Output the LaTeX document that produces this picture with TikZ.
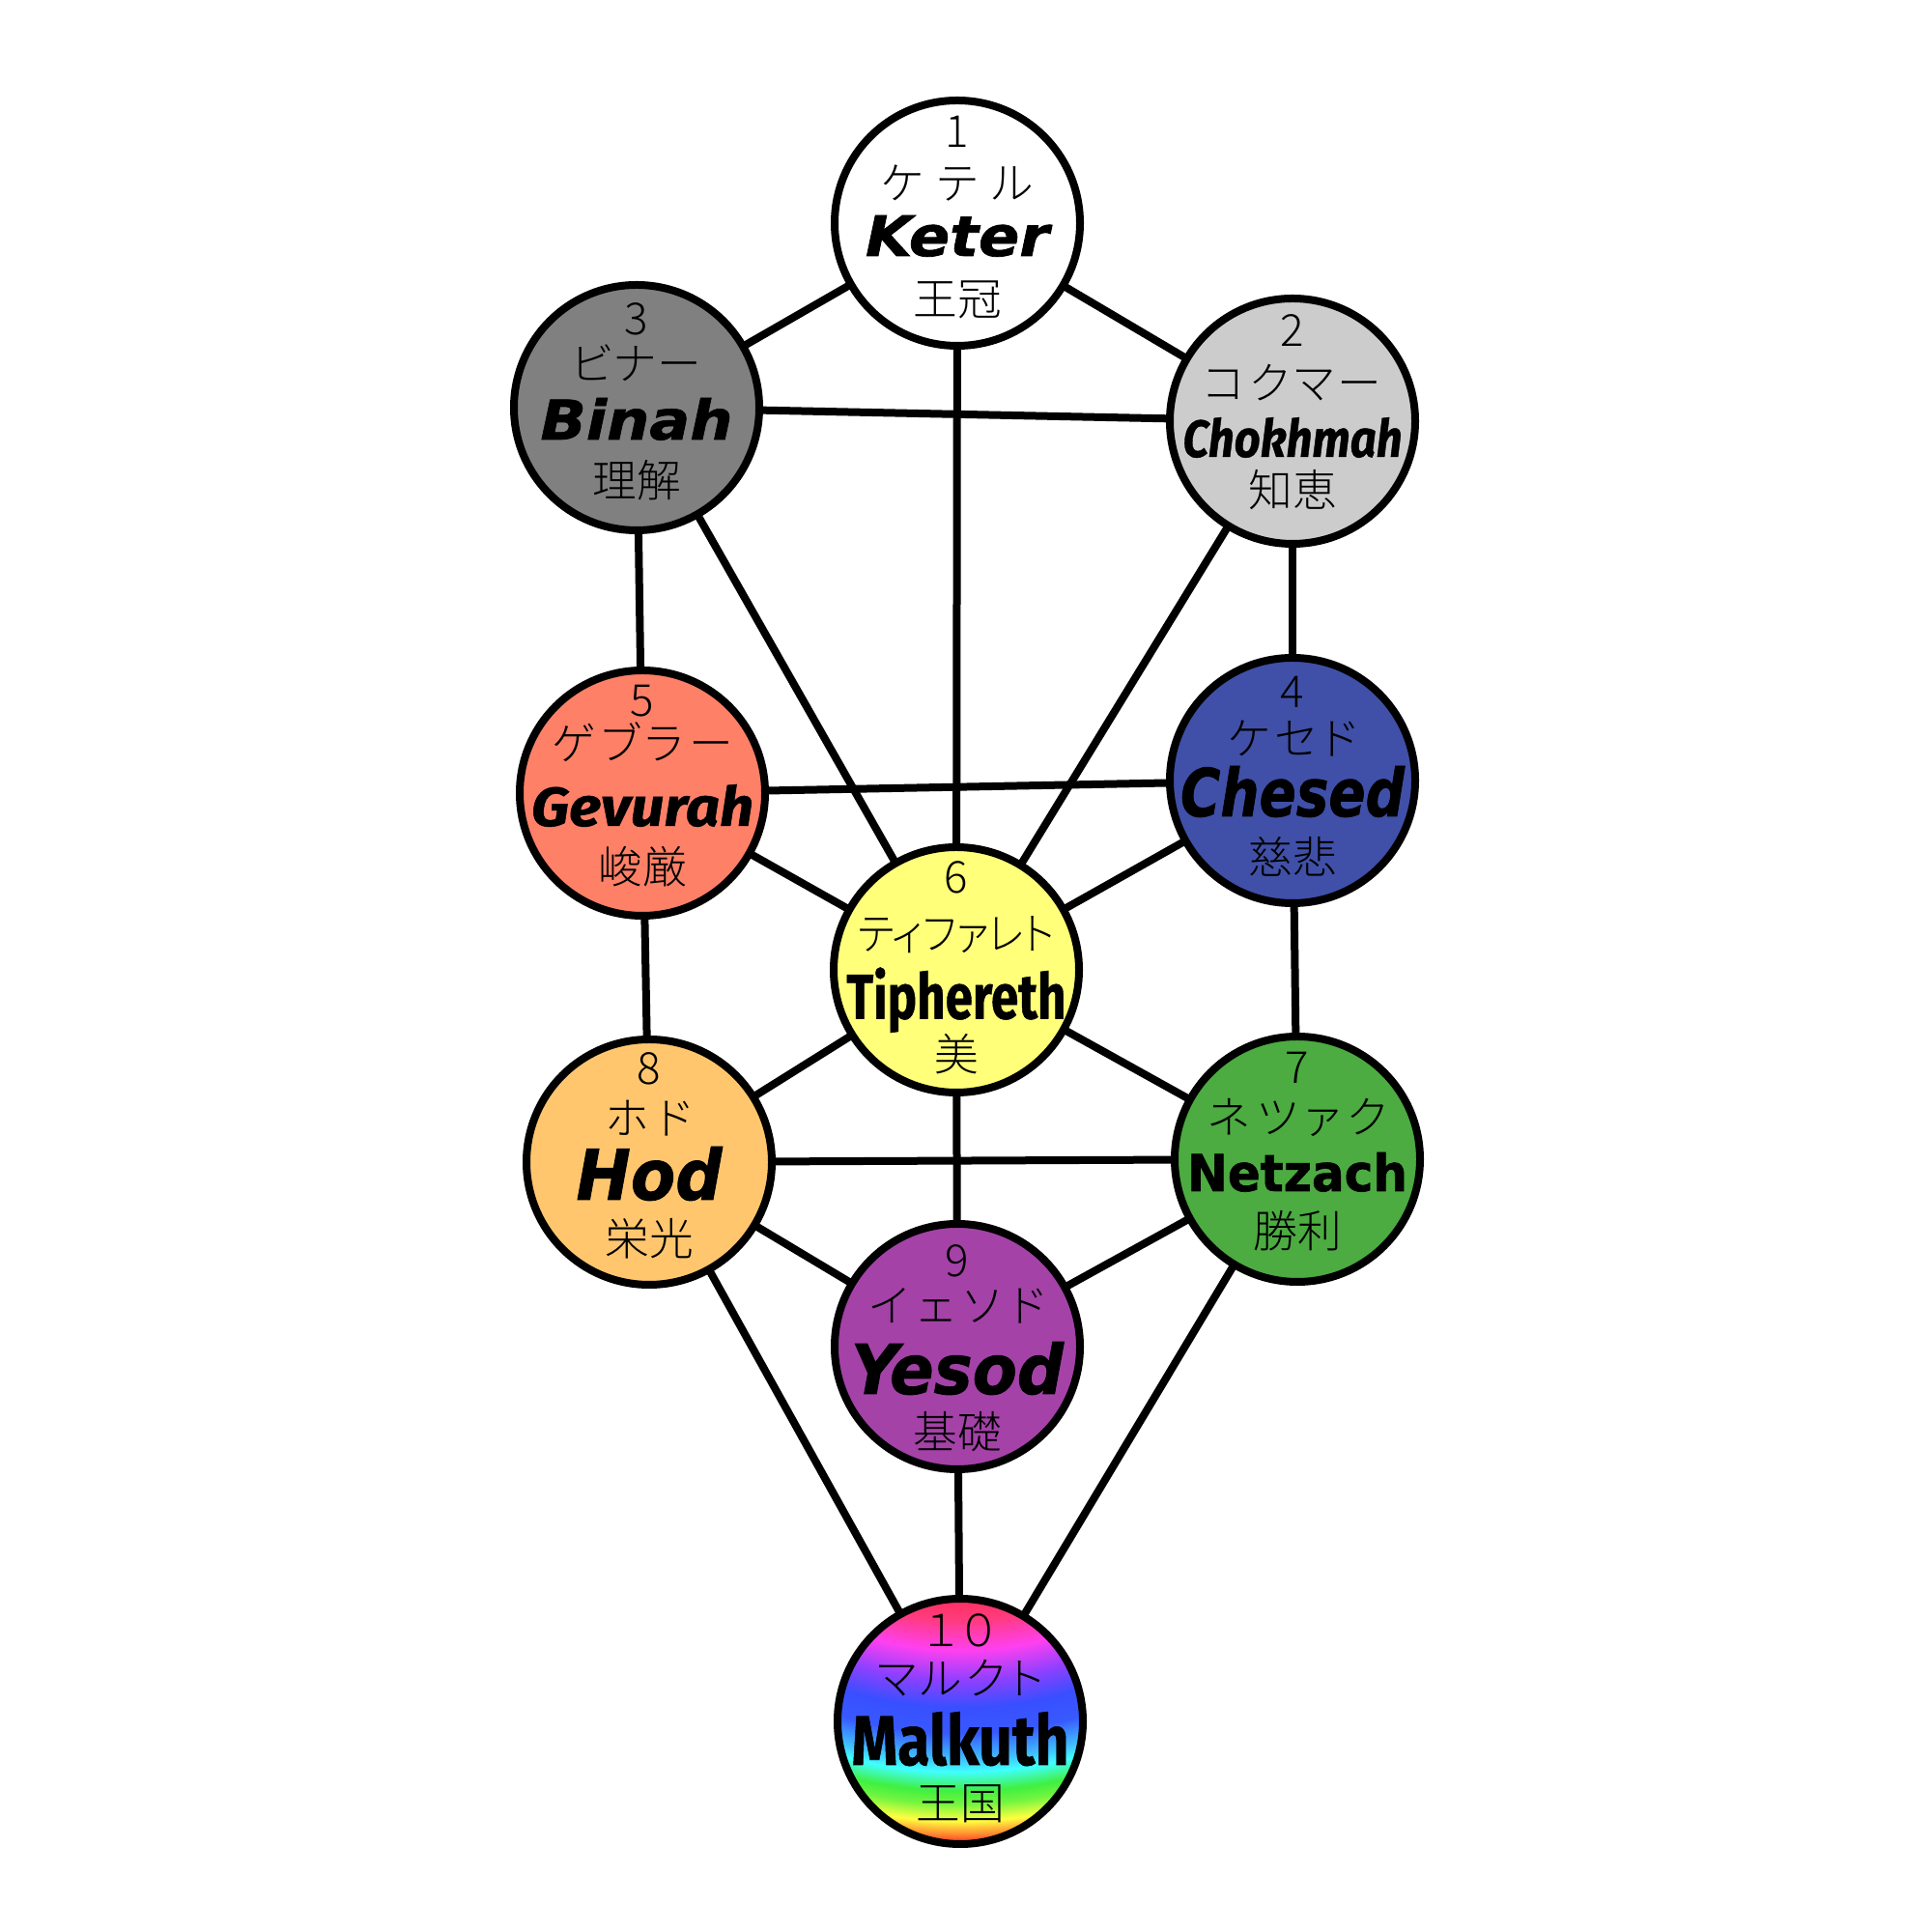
\documentclass[tikz,border=0pt]{standalone}
\usepackage{fontspec}
\usepackage{graphicx}
\usetikzlibrary{backgrounds,calc}
\newfontfamily\jp{Noto Sans CJK JP}[UprightFont=* Light, RawFeature=+palt]
\newfontfamily\dvs{DejaVu Sans}[BoldFeatures={FakeBold=1.2}, BoldItalicFeatures={FakeBold=1.2}]
\newfontfamily\fira{Fira Sans}[BoldFeatures={FakeBold=0.8}, BoldItalicFeatures={FakeBold=0.8}]
\newcommand\kn[2]{\makebox[#1cm][s]{#2}}
\newcommand\nm[4]{\resizebox{#1cm}{#2cm}{#3#4}}
\newcommand\fA{\dvs\bfseries\itshape}
\newcommand\fB{\fira\bfseries\itshape}
\newcommand\fC{\fira\bfseries}
\newcommand\fD{\dvs\bfseries}
\pgfdeclareradialshading{rainbowsh}{\pgfpoint{0bp}{0bp}}{%
rgb(0bp)=(1,0.19,0.38); rgb(13.6bp)=(1,0.19,0.38); rgb(14.5bp)=(1,0.23,0.5);
rgb(15.9bp)=(1,0.25,0.94); rgb(17.3bp)=(0.56,0.25,1); rgb(18.6bp)=(0.22,0.31,1);
rgb(19.8bp)=(0.22,0.35,1); rgb(21.0bp)=(0.25,0.75,1); rgb(21.6bp)=(0.25,1,1);
rgb(22.5bp)=(0.25,0.94,0.25); rgb(23.1bp)=(0.45,0.96,0.25); rgb(23.9bp)=(1,1,0.25); rgb(24.5bp)=(1,0.56,0.19);
rgb(25bp)=(1,0.13,0.13); rgb(50bp)=(1,0.13,0.13)}
\definecolor{cbinah}{HTML}{808080}
\definecolor{cchok}{HTML}{CCCCCC}
\definecolor{cgev}{HTML}{FD8067}
\definecolor{cches}{HTML}{4050A8}
\definecolor{ctiph}{HTML}{FFFF7A}
\definecolor{chod}{HTML}{FFC66E}
\definecolor{cnetz}{HTML}{4CAB41}
\definecolor{cyes}{HTML}{A442A8}
\tikzset{
  sef/.style={circle, draw=black, line width=0.08cm, minimum size=2.54cm, inner sep=0pt},
  conn/.style={line width=0.08cm, draw=black},
  txt/.style={anchor=base, inner sep=0pt, font=\jp\fontsize{13}{13}\selectfont},
  lbl/.style={anchor=base, inner sep=0pt},
}
\begin{document}
\begin{tikzpicture}
\useasboundingbox (0,0) rectangle (20,20);
% circles
\node[sef, fill=white]  (k1) at (9.91,17.69) {};
\node[sef, fill=cchok]  (k2) at (13.38,15.64) {};
\node[sef, fill=cbinah] (k3) at (6.59,15.78) {};
\node[sef, fill=cches]  (k4) at (13.38,11.92) {};
\node[sef, fill=cgev]   (k5) at (6.65,11.79) {};
\node[sef, fill=ctiph]  (k6) at (9.90,9.96) {};
\node[sef, fill=cnetz]  (k7) at (13.43,8.00) {};
\node[sef, fill=chod]   (k8) at (6.72,7.97) {};
\node[sef, fill=cyes]   (k9) at (9.91,6.06) {};
\node[sef, path picture={\shade[shading=rainbowsh] ($(path picture bounding box.north)+(0,3.0)$) circle (5.5cm);}] (k10) at (9.94,2.18) {};
% connectors
\begin{pgfonlayer}{background}
\fill[white] (0,0) rectangle (20,20);
\foreach \a/\b in {k1/k2,k1/k3,k1/k6,k2/k3,k2/k4,k2/k6,k3/k5,k3/k6,k4/k5,k4/k6,k4/k7,k5/k6,k5/k8,k6/k7,k6/k8,k6/k9,k7/k8,k7/k9,k8/k9,k7/k10,k8/k10,k9/k10}
  \draw[conn] (\a.center) -- (\b.center);
\end{pgfonlayer}
% Keter
\node[txt] (t1a) at ($(k1)+(0,0.78)$) {1};
\node[txt] (t1b) at ($(k1)+(0,0.24)$) {\kn{1.57}{ケ\hfil テ\hfil ル}};
\node[lbl] (t1c) at ($(k1)+(0,-0.34)$) {\nm{1.90}{0.42}{\fA}{Keter}};
\node[txt] (t1d) at ($(k1)+(0,-0.96)$) {王冠};
% Chokhmah
\node[txt] (t2a) at ($(k2)+(0,0.77)$) {2};
\node[txt] (t2b) at ($(k2)+(0,0.22)$) {\kn{1.84}{コ\hfil ク\hfil マ\hfil ー}};
\node[lbl] (t2c) at ($(k2)+(0,-0.37)$) {\nm{2.27}{0.41}{\fB}{Chokhmah}};
\node[txt] (t2d) at ($(k2)+(0,-0.89)$) {知恵};
% Binah
\node[txt] (t3a) at ($(k3)+(0,0.75)$) {3};
\node[txt] (t3b) at ($(k3)+(0,0.28)$) {\kn{1.34}{ビ\hfil ナ\hfil ー}};
\node[lbl] (t3c) at ($(k3)+(0,-0.33)$) {\nm{1.99}{0.43}{\fA}{Binah}};
\node[txt] (t3d) at ($(k3)+(0,-0.93)$) {理解};
% Chesed
\node[txt] (t4a) at ($(k4)+(0,0.75)$) {4};
\node[txt] (t4b) at ($(k4)+(0,0.26)$) {\kn{1.34}{ケ\hfil セ\hfil ド}};
\node[lbl] (t4c) at ($(k4)+(0,-0.37)$) {\nm{2.32}{0.52}{\fA}{Chesed}};
\node[txt] (t4d) at ($(k4)+(0,-0.97)$) {慈悲};
% Gevurah
\node[txt] (t5a) at ($(k5)+(0,0.79)$) {5};
\node[txt] (t5b) at ($(k5)+(0,0.34)$) {\kn{1.87}{ゲ\hfil ブ\hfil ラ\hfil ー}};
\node[lbl] (t5c) at ($(k5)+(0,-0.34)$) {\nm{2.30}{0.43}{\fB}{Gevurah}};
\node[txt] (t5d) at ($(k5)+(0,-0.94)$) {峻厳};
% Tiphereth
\node[txt] (t6a) at ($(k6)+(0,0.795)$) {6};
\node[txt] (t6b) at ($(k6)+(0,0.20)$) {\resizebox{2.04cm}{\height}{ティファレト}};
\node[lbl] (t6c) at ($(k6)+(0,-0.505)$) {\nm{2.27}{0.53}{\fC}{Tiphereth}};
\node[txt] (t6d) at ($(k6)+(0,-1.05)$) {美};
% Netzach
\node[txt] (t7a) at ($(k7)+(0,0.78)$) {7};
\node[txt] (t7b) at ($(k7)+(0,0.26)$) {\kn{1.85}{ネ\hfil ツ\hfil ァ\hfil ク}};
\node[lbl] (t7c) at ($(k7)+(0,-0.33)$) {\nm{2.28}{0.40}{\fD}{Netzach}};
\node[txt] (t7d) at ($(k7)+(0,-0.92)$) {勝利};
% Hod
\node[txt] (t8a) at ($(k8)+(0,0.80)$) {8};
\node[txt] (t8b) at ($(k8)+(0,0.28)$) {\kn{0.89}{ホ\hfil ド}};
\node[lbl] (t8c) at ($(k8)+(0,-0.39)$) {\nm{1.51}{0.55}{\fA}{Hod}};
\node[txt] (t8d) at ($(k8)+(0,-0.97)$) {栄光};
% Yesod
\node[txt] (t9a) at ($(k9)+(0,0.72)$) {9};
\node[txt] (t9b) at ($(k9)+(0,0.25)$) {\kn{1.82}{イ\hfil ェ\hfil ソ\hfil ド}};
\node[lbl] (t9c) at ($(k9)+(0,-0.49)$) {\nm{2.20}{0.54}{\fA}{Yesod}};
\node[txt] (t9d) at ($(k9)+(0,-1.06)$) {基礎};
% Malkuth
\node[txt] (t10a) at ($(k10)+(0,0.77)$) {\kn{0.74}{１\hfil ０}};
\node[txt] (t10b) at ($(k10)+(0,0.27)$) {\kn{1.72}{マ\hfil ル\hfil ク\hfil ト}};
\node[lbl] (t10c) at ($(k10)+(0,-0.45)$) {\nm{2.25}{0.55}{\fC}{Malkuth}};
\node[txt] (t10d) at ($(k10)+(0,-1.02)$) {王国};
\end{tikzpicture}
\end{document}
